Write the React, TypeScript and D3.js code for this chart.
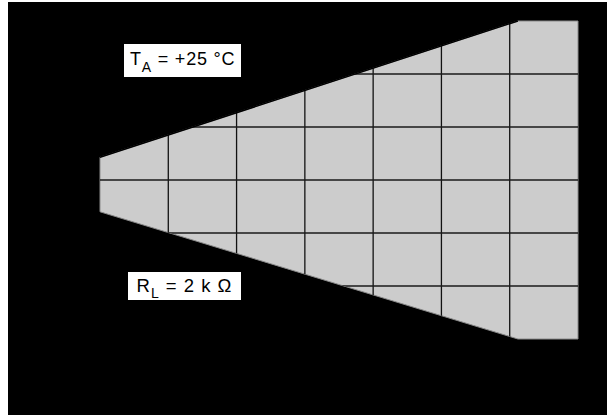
import React from "react";
import * as d3 from "d3";

// grid divisions (x: 7 divisions, y: 6 divisions)
const xDivisions = [0, 1, 2, 3, 4, 5, 6, 7];
const yDivisions = [-3, -2, -1, 0, 1, 2, 3];

// envelope (in grid units)
const upperX = [0, 6.12, 7];
const upperY = [0.43, 3, 3];
const lowerX = [0, 6.12, 7];
const lowerY = [-0.6, -3, -3];

const labelTemp = { main: "T", sub: "A", rest: " = +25 °C" };
const labelLoad = { main: "R", sub: "L", rest: " = 2 k Ω" };

const W = 607;
const H = 415;

export default function App() {
  const x = d3.scaleLinear().domain([0, 7]).range([100, 578]);
  const y = d3.scaleLinear().domain([-3, 3]).range([339, 21]);

  const upper = upperX.map((v, i) => [x(v), y(upperY[i])] as [number, number]);
  const lower = lowerX.map((v, i) => [x(v), y(lowerY[i])] as [number, number]);
  const poly = [...upper, ...lower.slice().reverse()];
  const polyPath = d3.line()(poly) + "Z";
  const upperPath = d3.line()(upper.slice(0, 2));

  const font = "'Liberation Sans', Arial, Helvetica, sans-serif";

  return (
    <svg
      width={W}
      height={H}
      style={{ position: "absolute", left: 0, top: 0 }}
    >
      <rect x={0} y={0} width={W} height={H} fill="#ffffff" />
      <rect x={8} y={2} width={W - 8} height={H - 2} fill="#000000" />
      <defs>
        <clipPath id="env">
          <path d={polyPath} />
        </clipPath>
      </defs>
      <path d={polyPath} fill="#cccccc" stroke="#8a8a8a" strokeWidth={1} />
      <g clipPath="url(#env)">
        {xDivisions.slice(1, -1).map((d) => (
          <line
            key={"vx" + d}
            x1={x(d)}
            x2={x(d)}
            y1={y(3)}
            y2={y(-3)}
            stroke="#111"
            strokeWidth={1.3}
          />
        ))}
        {yDivisions.slice(1, -1).map((d) => (
          <line
            key={"hy" + d}
            x1={x(0)}
            x2={x(7)}
            y1={y(d)}
            y2={y(d)}
            stroke="#1a1a1a"
            strokeWidth={1.3}
          />
        ))}
      </g>
      <path d={upperPath || ""} fill="none" stroke="#000" strokeWidth={1.5} />

      <rect x={124} y={44} width={117} height={33} fill="#ffffff" />
      <text x={130} y={65.2} fontFamily={font} fontSize={18} fill="#000" letterSpacing={0.8}>
        {labelTemp.main}
        <tspan fontSize={14} dy={6.8}>{labelTemp.sub}</tspan>
        <tspan dy={-6.8}>{labelTemp.rest}</tspan>
      </text>

      <rect x={128} y={272} width={113} height={28} fill="#ffffff" />
      <text x={136.5} y={291.7} fontFamily={font} fontSize={18.5} fill="#000" letterSpacing={1}>
        {labelLoad.main}
        <tspan fontSize={14} dy={6.3}>{labelLoad.sub}</tspan>
        <tspan dy={-6.3}>{labelLoad.rest}</tspan>
      </text>
    </svg>
  );
}
